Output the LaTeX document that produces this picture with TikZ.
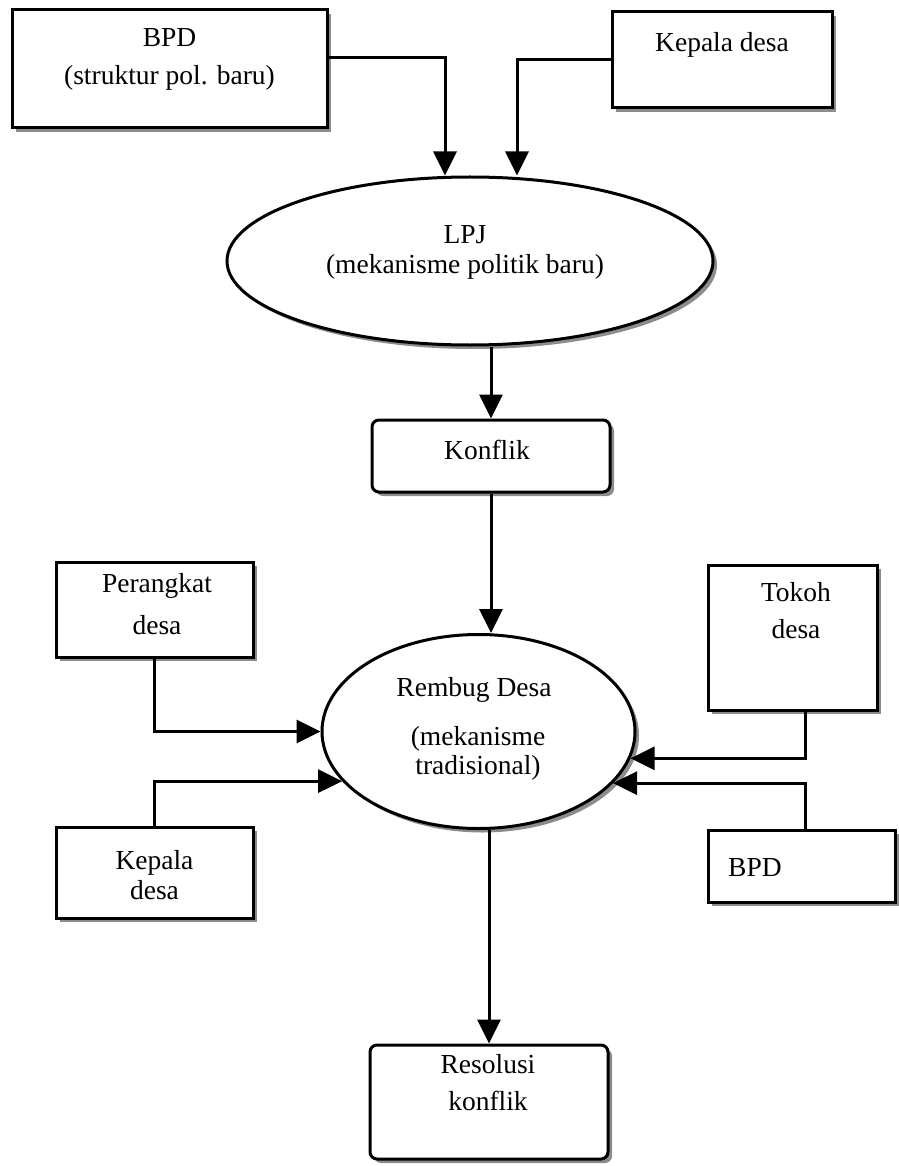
\documentclass[tikz,border=0pt]{standalone}
\usepackage{fontspec}
\setmainfont{Liberation Serif}
\usetikzlibrary{arrows.meta,shapes.geometric,shadows}
\begin{document}
\begin{tikzpicture}[x=1pt,y=-1pt,
  shade/.style={drop shadow={shadow xshift=4pt,shadow yshift=-4pt,fill=black!45,opacity=1}},
  box/.style={draw,line width=3pt,fill=white,shade,inner sep=0pt},
  rbox/.style={box,rounded corners=7pt},
  oval/.style={ellipse,draw,line width=3pt,fill=white,shade,inner sep=0pt},
  txt/.style={font=\fontsize{27.5}{#1}\selectfont,align=center,inner sep=0pt},
  txt/.default=30,
  conn/.style={line width=3pt,-{Triangle[length=24pt,width=23pt]}}]
\useasboundingbox (0,0) rectangle (898,1166);

% nodes
\node[box,minimum width=315pt,minimum height=118pt] (bpd1) at (169.5,69) {};
\node[box,minimum width=220pt,minimum height=96pt] (kd1) at (722,60) {};
\node[oval,minimum width=486pt,minimum height=168pt] (lpj) at (470,261) {};
\node[rbox,minimum width=238pt,minimum height=72pt] (konflik) at (491,456) {};
\node[oval,minimum width=313pt,minimum height=194pt] (rembug) at (478.5,731.5) {};
\node[box,minimum width=197pt,minimum height=95pt] (perangkat) at (154.5,609.5) {};
\node[box,minimum width=197pt,minimum height=91pt] (kd2) at (154.5,872.5) {};
\node[box,minimum width=169pt,minimum height=145pt] (tokoh) at (792.5,637.5) {};
\node[box,minimum width=187pt,minimum height=72pt] (bpd2) at (801.5,866) {};
\node[rbox,minimum width=238pt,minimum height=114pt] (resolusi) at (489,1102) {};

% texts
\node[txt=38] (bpd1t) at (169.5,59) {BPD\\(struktur pol. baru)};
\node[txt] (kd1t) at (722,45) {Kepala desa};
\node[txt=30] (lpjt) at (465,252) {LPJ\\(mekanisme politik baru)};
\node[txt] (konflikt) at (487,450) {Konflik};
\node[txt] (rembugt1) at (474,690) {Rembug Desa};
\node[txt=29] (rembugt2) at (478,753) {(mekanisme\\tradisional)};
\node[txt=42] (perangkatt) at (157,604) {Perangkat\\desa};
\node[txt=30] (kd2t) at (154.5,875) {Kepala\\desa};
\node[txt=37] (tokoht) at (796,611) {Tokoh\\desa};
\node[txt,anchor=west] (bpd2t) at (728,868) {BPD};
\node[txt=37] (resolusit) at (488,1083) {Resolusi\\konflik};

% connectors
\draw[conn] ([yshift=11pt]bpd1.east) -| ([xshift=-25pt]lpj.north);
\draw[conn] (kd1.west) -| ([xshift=47pt]lpj.north);
\draw[conn] (konflik.north |- lpj.south) -- (konflik.north);
\draw[conn] (konflik.south) -- (konflik.south |- rembug.north);
\draw[conn] (perangkat.south) |- (rembug.west);
\draw[conn] (kd2.north) |- (rembug.200);
\draw[conn] ([xshift=12.5pt]tokoh.south) |- (rembug.350);
\draw[conn] ([xshift=3.5pt]bpd2.north) |- (rembug.339);
\draw[conn] (resolusi.north |- rembug.south) -- (resolusi.north);
\end{tikzpicture}
\end{document}
